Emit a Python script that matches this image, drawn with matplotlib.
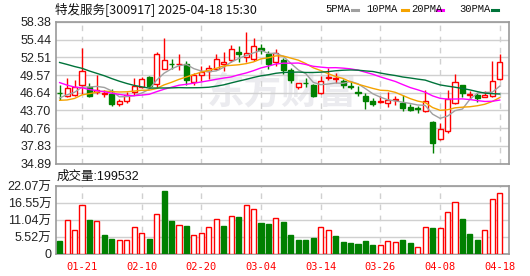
import matplotlib
matplotlib.use("Agg")
import matplotlib.pyplot as plt
import numpy as np
import pandas as pd
from matplotlib.lines import Line2D


dates = [
	"01-16", "01-17", "01-20", "01-21", "01-22", "01-23", "01-24", "01-27",
	"02-05", "02-06", "02-07", "02-10", "02-11", "02-12", "02-13", "02-14",
	"02-17", "02-18", "02-19", "02-20", "02-21", "02-24", "02-25", "02-26",
	"02-27", "02-28", "03-03", "03-04", "03-05", "03-06", "03-07", "03-10",
	"03-11", "03-12", "03-13", "03-14", "03-17", "03-18", "03-19", "03-20",
	"03-21", "03-24", "03-25", "03-26", "03-27", "03-28", "03-31", "04-01",
	"04-02", "04-03", "04-07", "04-08", "04-09", "04-10", "04-11", "04-14",
	"04-15", "04-16", "04-17", "04-18",
]
open_ = [
	46.66, 46.05, 46.21, 47.99, 47.60, 46.83, 46.50, 46.38, 44.77, 45.27,
	46.77, 47.66, 49.27, 48.16, 50.66, 51.44, 51.33, 51.49, 48.43, 49.66,
	50.21, 50.66, 51.33, 51.99, 53.32, 52.49, 52.21, 54.00, 52.99, 51.77,
	52.05, 50.38, 47.60, 48.32, 47.99, 46.66, 49.05, 48.99, 48.55, 47.77,
	46.77, 46.16, 45.32, 45.05, 44.99, 45.44, 44.94, 44.27, 44.05, 43.55,
	41.77, 38.88, 40.21, 44.99, 47.88, 46.20, 46.32, 45.94, 46.05, 49.00,
]
high = [
	47.88, 49.10, 48.71, 54.10, 48.30, 49.55, 47.05, 47.30, 45.60, 46.77,
	49.10, 49.27, 49.44, 53.32, 55.77, 52.32, 53.05, 51.88, 49.99, 51.10,
	51.21, 52.99, 53.44, 54.55, 54.44, 56.66, 55.66, 54.66, 53.55, 53.88,
	52.44, 50.77, 48.32, 49.16, 48.16, 49.44, 50.77, 49.99, 48.99, 48.55,
	47.71, 46.60, 45.77, 46.05, 46.77, 46.10, 46.21, 44.83, 44.44, 47.16,
	41.90, 41.66, 47.05, 49.83, 47.88, 46.94, 46.60, 46.88, 51.88, 52.99,
]
low = [
	45.38, 45.94, 46.05, 46.49, 46.00, 46.50, 45.95, 44.40, 44.44, 44.99,
	46.21, 47.44, 47.55, 47.44, 50.50, 50.55, 50.49, 47.99, 47.99, 48.55,
	48.99, 50.38, 50.21, 51.77, 51.77, 51.66, 51.88, 52.99, 50.55, 51.10,
	49.83, 48.32, 47.21, 47.55, 45.94, 46.49, 48.71, 48.32, 47.44, 47.33,
	46.05, 43.99, 44.44, 44.99, 44.27, 44.66, 43.55, 43.55, 43.33, 43.44,
	36.66, 38.71, 39.99, 44.80, 45.94, 45.66, 45.10, 45.94, 45.94, 48.70,
]
close = [
	46.55, 47.49, 47.60, 50.21, 46.10, 47.05, 46.60, 44.71, 45.32, 46.32,
	47.71, 48.88, 47.71, 52.99, 52.10, 51.33, 51.49, 48.71, 49.55, 50.10,
	50.77, 52.16, 51.71, 53.88, 53.10, 53.16, 54.44, 53.77, 51.33, 53.27,
	50.49, 48.71, 48.32, 48.21, 46.10, 48.55, 49.27, 49.10, 47.99, 47.66,
	46.60, 45.21, 44.83, 45.21, 45.49, 45.66, 44.10, 43.83, 43.94, 45.21,
	38.32, 40.66, 45.66, 48.44, 46.60, 46.35, 45.77, 46.32, 48.55, 51.66,
]
# 成交量, 万手
volume = [
	4.33, 11.04, 7.79, 15.90, 11.04, 10.70, 6.17, 4.87, 4.55, 4.55,
	8.77, 6.82, 4.87, 12.99, 20.46, 10.70, 9.40, 9.09, 6.17, 6.82,
	8.77, 11.36, 9.09, 12.34, 12.00, 15.90, 14.60, 10.17, 9.74, 11.58,
	10.39, 6.17, 4.55, 4.55, 5.20, 8.66, 7.69, 5.84, 4.00, 3.57,
	3.25, 4.22, 2.92, 2.81, 4.22, 3.90, 4.55, 3.57, 2.16, 8.66,
	8.44, 8.33, 13.53, 16.78, 11.36, 6.49, 4.55, 7.69, 17.75, 19.95,
]
# closes before the visible window, needed for the moving averages
prior_close = [
	57.2, 58.0, 59.1, 59.6, 58.8, 58.5, 58.9, 58.2, 57.6, 57.5,
	55.8, 54.1, 52.6, 51.9, 50.8, 50.2, 49.6, 49.3, 49.5, 48.8,
	46.9, 45.1, 44.3, 44.0, 44.65, 44.8, 45.6, 45.9, 46.0,
]

price_ticks = ["34.89", "37.83", "40.76", "43.70", "46.64", "49.57", "52.51", "55.44", "58.38"]
vol_ticks = ["0", "5.52万", "11.04万", "16.55万", "22.07万"]
date_ticks = ["01-21", "02-10", "02-20", "03-04", "03-14", "03-26", "04-08", "04-18"]
ma_periods = [5, 10, 20, 30]
ma_names = ["5PMA", "10PMA", "20PMA", "30PMA"]
ma_colors = ["#a0a0a0", "#f5a300", "#ff00ff", "#00733a"]

RED = "#ff0000"
GREEN = "#008000"
GRID = "#d0d0d0"
CJK = ["Liberation Sans", "Noto Sans CJK SC"]

W, H = 530, 276
fig = plt.figure(figsize=(W / 100, H / 100), dpi=100)
ax = fig.add_axes([55.5 / W, 1 - 163.5 / H, 453.5 / W, 141.5 / H])
axv = fig.add_axes([55.5 / W, 1 - 254 / H, 453.5 / W, 68 / H])

x = np.arange(len(close))
o = np.array(open_)
c = np.array(close)
up = c >= o
prev = np.concatenate([[o[0]], c[:-1]])
vol_up = c >= prev

# watermark
ax.text(
	0.50, 0.50, "东方财富", transform=ax.transAxes,
	fontsize=27, fontweight="bold", style="italic", color="#ebebef",
	family=["Noto Sans CJK SC"], ha="center", va="center", zorder=0,
)

# candles
body_w = 0.68
ax.vlines(x[up], np.array(low)[up], np.array(high)[up], color=RED, lw=1, zorder=3)
ax.vlines(x[~up], np.array(low)[~up], np.array(high)[~up], color=GREEN, lw=1, zorder=3)
bottom = np.minimum(o, c)
height = np.maximum(np.abs(c - o), 0.02)
ax.bar(
	x[up], height[up], bottom=bottom[up], width=body_w,
	facecolor="white", edgecolor=RED, lw=1, zorder=4,
)
ax.bar(
	x[~up], height[~up], bottom=bottom[~up], width=body_w,
	facecolor=GREEN, edgecolor=GREEN, lw=1, zorder=4,
)

# moving averages
all_close = pd.Series(prior_close + close)
for n, col in zip(ma_periods, ma_colors):
	ma = all_close.rolling(n).mean().iloc[len(prior_close):].to_numpy()
	ax.plot(x, ma, color=col, lw=1, zorder=5)

# volume
v = np.array(volume)
axv.bar(
	x[vol_up], v[vol_up], width=body_w,
	facecolor="white", edgecolor=RED, lw=1, zorder=3,
)
axv.bar(
	x[~vol_up], v[~vol_up], width=body_w,
	facecolor=GREEN, edgecolor=GREEN, lw=1, zorder=3,
)

tick_pos = [dates.index(d) for d in date_ticks]
for a in (ax, axv):
	a.set_xlim(-0.55, 60.24)
	a.set_xticks(tick_pos)
	a.grid(axis="y", color=GRID, lw=1, zorder=1)
	a.grid(axis="x", color=GRID, lw=1, ls=(0, (4, 4)), zorder=1)
	a.tick_params(length=0, labelsize=9, labelcolor="#222222", pad=3)
	for s in a.spines.values():
		s.set_color("#999999")
		s.set_linewidth(1.2)
	a.set_axisbelow(True)

ax.set_ylim(34.89, 58.38)
ax.set_yticks(np.linspace(34.89, 58.38, 9))
ax.set_yticklabels(price_ticks, family="Liberation Sans")
ax.set_xticklabels([])

axv.set_ylim(0, 22.07)
axv.set_yticks(np.linspace(0, 22.07, 5))
axv.set_yticklabels(vol_ticks, family=CJK)
axv.set_xticklabels(date_ticks, family="DejaVu Sans Mono", fontsize=7.5)
axv.tick_params(axis="x", labelcolor=RED, pad=6)

# header texts
fig.text(
	55 / W, 1 - 9 / H, "特发服务[300917] 2025-04-18 15:30",
	family=["Noto Sans CJK SC"], fontsize=9, va="center", ha="left", color="#111111",
)
fig.text(
	57 / W, 1 - 177 / H, "成交量:199532",
	family=CJK, fontsize=9, va="center", ha="left", color="#111111",
)
leg_x = [325, 366.5, 411.5, 459]
dash_x = [352, 402, 437, 492]
for name, col, lx, dx in zip(ma_names, ma_colors, leg_x, dash_x):
	fig.text(
		lx / W, 1 - 9 / H, name, family="Liberation Mono",
		fontsize=7.6, va="center", ha="left", color="#111111",
	)
	fig.lines.append(Line2D(
		[dx / W, (dx + 6) / W], [1 - 9.5 / H, 1 - 9.5 / H],
		transform=fig.transFigure, color=col, lw=2.2,
	))

fig.savefig("out.png", dpi=100)
